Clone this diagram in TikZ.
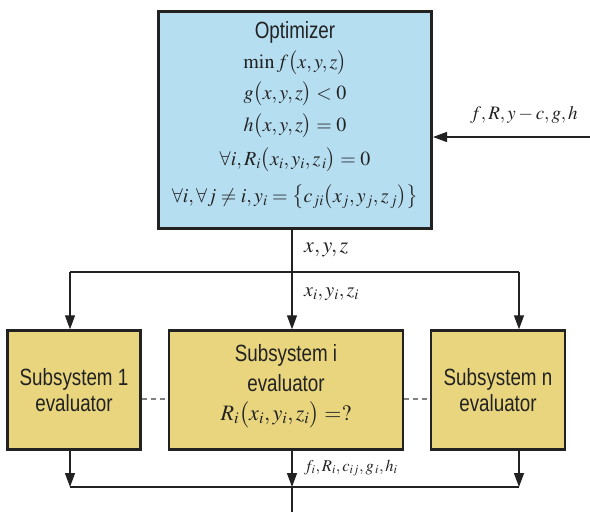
\documentclass[tikz,border=0pt]{standalone}
\usepackage{mathptmx}
\usepackage[no-math]{fontspec}
\setmainfont{Liberation Sans}[FakeStretch=0.80]
\usetikzlibrary{arrows.meta}
\definecolor{optblue}{HTML}{B6DEF1}
\definecolor{subyel}{HTML}{E8D57E}
\definecolor{edge}{HTML}{222222}
\tikzset{
  optbox/.style={draw=edge, line width=3pt, fill=optblue, minimum width=273pt, minimum height=217pt, inner sep=0pt},
  subbox/.style={draw=edge, line width=2.4pt, fill=subyel, minimum height=119pt, inner sep=0pt},
  big/.style={font=\fontsize{23.5}{26}\selectfont, text=edge, inner sep=0pt, align=center},
  eq/.style={font=\fontsize{20}{24}\selectfont, text=edge, inner sep=0pt},
  lab/.style={inner sep=0pt, anchor=west, text=edge},
  conn/.style={draw=edge, line width=1.3pt},
  arr/.style={conn, -{Triangle[length=14pt,width=10pt]}},
  dots/.style={draw=gray, line width=1.2pt, dash pattern=on 5pt off 4pt}
}
\begin{document}
\begin{tikzpicture}[x=1pt,y=-1pt]
\path[use as bounding box] (0,0) rectangle (590,512);
% optimizer
\node[optbox] (opt) at (295,120) {};
\node[big] (optT) at (295,32) {Optimizer};
\node[eq] (e1) at (295,63) {$\min f\bigl(x,y,z\bigr)$};
\node[eq] (e2) at (295,94) {$g\bigl(x,y,z\bigr)<0$};
\node[eq] (e3) at (295,126) {$h\bigl(x,y,z\bigr)=0$};
\node[eq] (e4) at (295,160) {$\forall i, R_i\bigl(x_i,y_i,z_{\,i}\bigr)=0$};
\node[eq] (e5) at (295,197) {$\forall i,\forall j\neq i, y_i=\bigl\{c_{ji}\bigl(x_j,y_j,z_{\,j}\bigr)\bigr\}$};
% subsystems
\node[subbox, minimum width=133pt] (s1) at (74,390) {};
\node[big] (s1t) at (74,390) {Subsystem 1\\evaluator};
\node[subbox, minimum width=234pt] (si) at (286,390) {};
\node[big] (sit1) at (286,355) {Subsystem i};
\node[big] (sit2) at (286,383) {evaluator};
\node[eq, font=\fontsize{22}{26}\selectfont] (sit3) at (286,415) {$R_i\bigl(x_i,y_i,z_i\bigr)=?$};
\node[subbox, minimum width=134pt] (sn) at (498,390) {};
\node[big] (snt) at (498,390) {Subsystem n\\evaluator};
\draw[dots] (s1.east |- 0,399) -- (si.west |- 0,399);
\draw[dots] (si.east |- 0,399) -- (sn.west |- 0,399);
% input arrow
\coordinate (inR) at (590,137);
\draw[arr] (inR) -- (inR -| opt.east);
\node[lab, font=\fontsize{19}{22}\selectfont] (inL) at (470,115) {$f,R,y-c,g,h$};
% distribution
\coordinate (col) at (292,272);
\coordinate (lb) at (70,272);
\coordinate (rb) at (519,272);
\draw[conn] (lb) -- (rb);
\draw[arr] (opt.south -| col) -- (col |- si.north);
\draw[arr] (lb) -- (lb |- s1.north);
\draw[arr] (rb) -- (rb |- sn.north);
\node[lab, font=\fontsize{22}{26}\selectfont] (xyz) at (304,250) {$x,y,z$};
\node[lab, font=\fontsize{20}{24}\selectfont] (xyzi) at (304,294) {$x_i,y_i,z_i$};
% collection
\coordinate (cl) at (70,487);
\coordinate (cc) at (292,487);
\coordinate (cr) at (519,487);
\coordinate (out) at (292,512);
\draw[conn] (cl) -- (cr);
\draw[arr] (s1.south -| cl) -- (cl);
\draw[arr] (si.south -| cc) -- (cc);
\draw[arr] (sn.south -| cr) -- (cr);
\draw[conn] (cc) -- (out);
\node[lab, font=\fontsize{16.5}{20}\selectfont] (fil) at (304,468) {$f_i,R_i,c_{ij},g_{\,i},h_i$};
\end{tikzpicture}
\end{document}
